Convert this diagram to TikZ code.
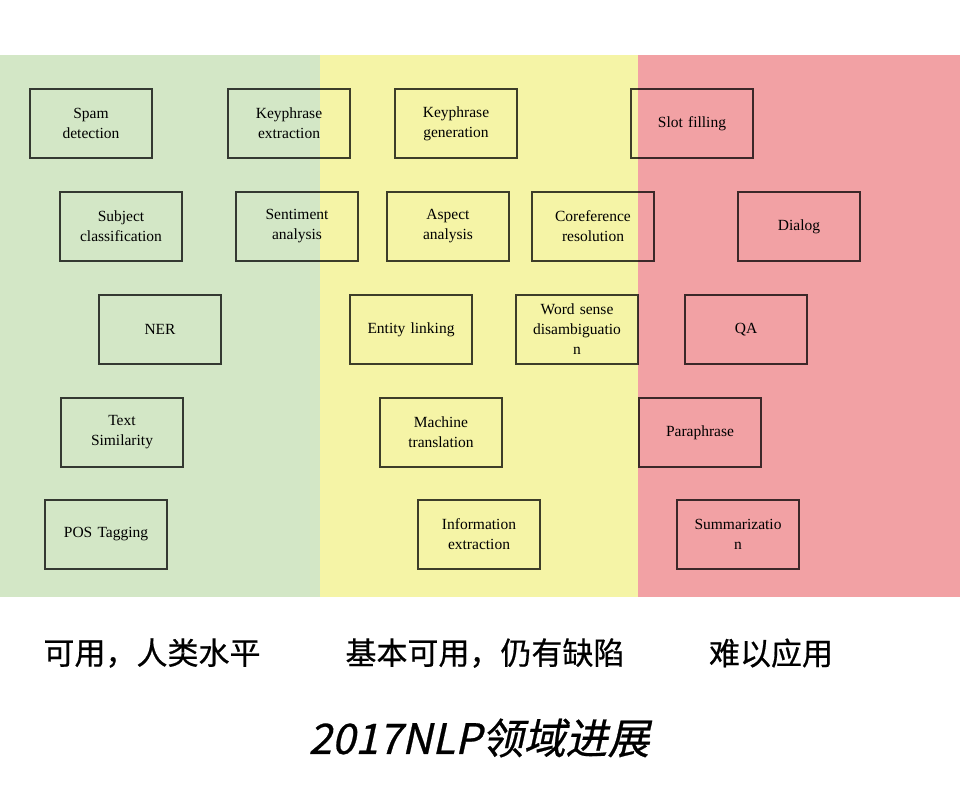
\documentclass[tikz,border=0pt]{standalone}
\usepackage{fontspec}
\usetikzlibrary{positioning}
\setmainfont{Liberation Serif}
\newfontfamily\cjk[FakeBold=0.6]{Noto Sans CJK SC}
\newfontfamily\cjkslant[FakeSlant=0.22,FakeBold=0.6]{Noto Sans CJK SC}
\definecolor{UsableGreen}{HTML}{D3E7C6}
\definecolor{PartialYellow}{HTML}{F5F4A6}
\definecolor{HardRed}{HTML}{F2A1A4}

\begin{document}
\begin{tikzpicture}[
  x=1pt, y=-1pt,
  tasknode/.style={draw=black, draw opacity=0.75, line width=1.3pt, minimum width=122pt, minimum height=69pt, inner sep=2pt, align=center, text width=118pt, font=\fontsize{15.5}{20}\selectfont},
  bandlabel/.style={font=\cjk\fontsize{31}{36}\selectfont},
  titlelabel/.style={font=\cjkslant\fontsize{42}{48}\selectfont}
]
\fill[white] (0,0) rectangle (960,804);
\useasboundingbox (0,0) rectangle (960,804);
% three bands
\fill[UsableGreen] (0,55) rectangle (320,597);
\fill[PartialYellow] (320,55) rectangle (638,597);
\fill[HardRed] (638,55) rectangle (960,597);

% row 1
\node[tasknode] (spam) at (91,123.5) {Spam\\detection};
\node[tasknode] (kpext) at (289,123.5) {Keyphrase\\extraction};
\node[tasknode] (kpgen) at (456,123.5) {Keyphrase\\generation};
\node[tasknode] (slot) at (692,123.5) {Slot filling};
% row 2
\node[tasknode] (subj) at (121,226.5) {Subject\\classification};
\node[tasknode] (senti) at (297,226.5) {Sentiment\\analysis};
\node[tasknode] (aspect) at (448,226.5) {Aspect\\analysis};
\node[tasknode] (coref) at (593,226.5) {Coreference\\resolution};
\node[tasknode] (dialog) at (799,226.5) {Dialog};
% row 3
\node[tasknode] (ner) at (160,329.5) {NER};
\node[tasknode] (entlink) at (411,329.5) {Entity linking};
\node[tasknode] (wsd) at (577,329.5) {Word sense\\disambiguatio\\n};
\node[tasknode] (qa) at (746,329.5) {QA};
% row 4
\node[tasknode] (textsim) at (122,432.5) {Text\\Similarity};
\node[tasknode] (mt) at (441,432.5) {Machine\\translation};
\node[tasknode] (para) at (700,432.5) {Paraphrase};
% row 5
\node[tasknode] (pos) at (106,534.5) {POS Tagging};
\node[tasknode] (infoext) at (479,534.5) {Information\\extraction};
\node[tasknode] (summ) at (738,534.5) {Summarizatio\\n};

% band captions
\node[bandlabel] (usable) at (152,653) {可用，人类水平};
\node[bandlabel] (partial) at (485,653) {基本可用，仍有缺陷};
\node[bandlabel] (hard) at (771,653) {难以应用};
\node[titlelabel] (title) at (479,738) {2017NLP领域进展};
\end{tikzpicture}
\end{document}
